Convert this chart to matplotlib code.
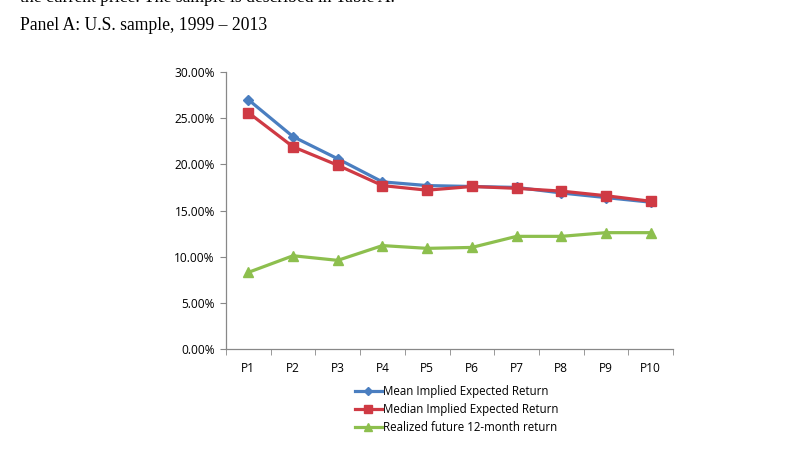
import numpy as np
import matplotlib.pyplot as plt
from matplotlib.ticker import FuncFormatter, FixedLocator

# portfolio labels and series values (in percent)
portfolios = ['P1', 'P2', 'P3', 'P4', 'P5', 'P6', 'P7', 'P8', 'P9', 'P10']
mean_implied = [27.0, 23.0, 20.6, 18.1, 17.7, 17.6, 17.5, 16.9, 16.4, 15.9]
median_implied = [25.6, 21.9, 19.9, 17.7, 17.2, 17.6, 17.4, 17.1, 16.6, 16.0]
realized_12m = [8.3, 10.1, 9.6, 11.2, 10.9, 11.0, 12.2, 12.2, 12.6, 12.6]

fig = plt.figure(figsize=(7.85, 4.55), dpi=100)

# document text around the chart
fig.text(20 / 785, 1 + 3 / 455, 'the current price. The sample is described in Table A.',
         family='Liberation Serif', fontsize=12.7, va='center', ha='left')
fig.text(20 / 785, 1 - 26 / 455, 'Panel A: U.S. sample, 1999 \u2013 2013',
         family='Liberation Serif', fontsize=12.7, va='center', ha='left')

ax = fig.add_axes([226 / 785, 1 - 349 / 455, 447 / 785, 277 / 455])

x = np.arange(len(portfolios))
ax.plot(x, mean_implied, color='#4A7EC0', lw=2.3, marker='D', ms=5.5,
        label='Mean Implied Expected Return')
ax.plot(x, median_implied, color='#CF3A44', lw=2.3, marker='s', ms=7,
        label='Median Implied Expected Return')
ax.plot(x, realized_12m, color='#8DBF4E', lw=2.3, marker='^', ms=7.5,
        label='Realized future 12-month return')

ax.set_xlim(-0.5, len(portfolios) - 0.5)
ax.set_ylim(0, 30)
ax.set_yticks(np.arange(0, 31, 5))
ax.yaxis.set_major_formatter(FuncFormatter(lambda v, p: '%.2f%%' % v))

ax.set_xticks(x)
ax.set_xticklabels(portfolios)
ax.xaxis.set_minor_locator(FixedLocator(np.arange(-0.5, len(portfolios), 1)))
ax.tick_params(axis='x', which='major', length=0, pad=9)
ax.tick_params(axis='x', which='minor', length=4, color='#888888')
ax.tick_params(axis='y', length=4, color='#888888', pad=4)

for lbl in ax.get_xticklabels() + ax.get_yticklabels():
    lbl.set_family('Open Sans')
    lbl.set_fontsize(8.6)

for s in ['top', 'right']:
    ax.spines[s].set_visible(False)
for s in ['left', 'bottom']:
    ax.spines[s].set_color('#888888')
    ax.spines[s].set_linewidth(0.9)

leg = ax.legend(loc='upper center', bbox_to_anchor=(0.516, -0.092), ncol=1,
                frameon=False, prop={'family': 'Open Sans', 'size': 8.3},
                handlelength=2.3, handletextpad=0.1, labelspacing=0.45,
                markerscale=0.8)

fig.savefig('out.png', dpi=100)
